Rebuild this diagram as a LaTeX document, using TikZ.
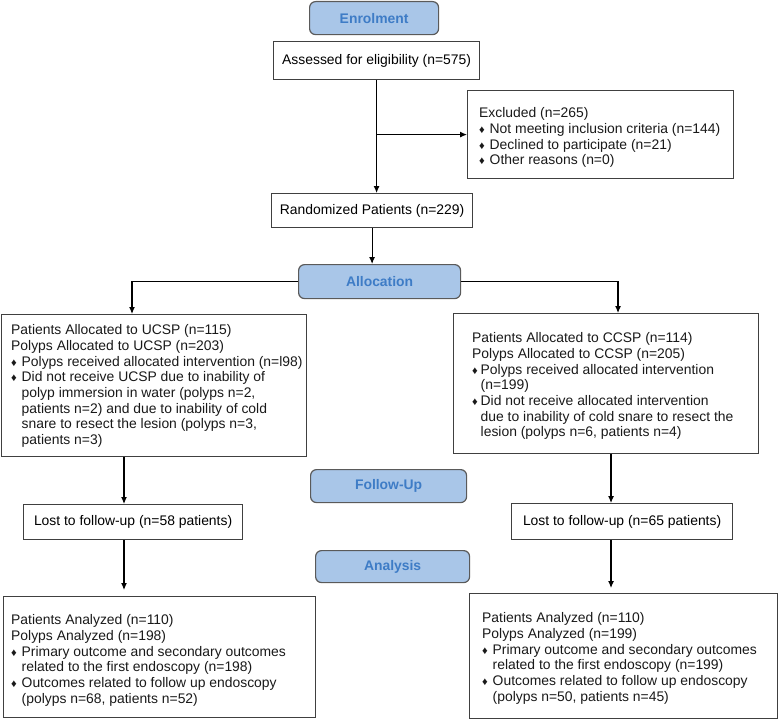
\documentclass[tikz,border=0pt]{standalone}
\usepackage{fontspec}
\setmainfont{Liberation Sans}
\usetikzlibrary{arrows.meta,calc}
\definecolor{hdfill}{HTML}{A9C6E8}
\definecolor{hdtext}{HTML}{3E7CC6}
\definecolor{hdline}{HTML}{5A5A5A}
\definecolor{bxline}{HTML}{404040}
\newcommand{\bul}{\makebox[10.5pt][l]{\scalebox{0.8}{♦}}}
\newcommand{\bulr}{\makebox[8.5pt][l]{\scalebox{0.8}{♦}}}
\newcommand{\ind}{\hspace*{10.5pt}}
\newcommand{\indr}{\hspace*{8.5pt}}
\begin{document}
\begin{tikzpicture}[x=1pt,y=-1pt,
  font=\fontsize{13.9}{15.7}\selectfont,
  heading/.style={draw=hdline, line width=1.2pt, fill=hdfill, rounded corners=6pt, text=hdtext, font=\fontsize{13.9}{15.7}\selectfont\bfseries, anchor=north west, inner sep=0pt},
  box/.style={draw=bxline, line width=1.2pt, anchor=north west, inner sep=0pt},
  txt/.style={anchor=north west, align=left, inner sep=0pt, text=black!90},
  arr/.style={line width=1.1pt, -{Latex[length=7pt,width=6pt]}}
]
\useasboundingbox (0,0) rectangle (778,720);

% headings
\node[heading, minimum width=129pt, minimum height=33pt] (enrol) at (309,1) {Enrolment};
\node[heading, minimum width=162pt, minimum height=34pt] (alloc) at (298,264) {Allocation};
\node[heading, minimum width=156pt, minimum height=33pt] (fu) at (310,469) {Follow-Up};
\node[heading, minimum width=154pt, minimum height=32pt] (anal) at (315,550) {Analysis};

% simple boxes
\node[box, minimum width=206pt, minimum height=38pt] (assess) at (273,41) {Assessed for eligibility (n=575)};
\node[box, minimum width=201pt, minimum height=34pt] (rand) at (271,193) {Randomized Patients (n=229)};
\node[box, minimum width=219pt, minimum height=35pt] (lostL) at (23,504) {Lost to follow-up (n=58 patients)};
\node[box, minimum width=221pt, minimum height=36pt] (lostR) at (511,503) {Lost to follow-up (n=65 patients)};

% text boxes
\node[box, minimum width=266pt, minimum height=88pt] (excl) at (467,90) {};
\node[txt] (exclt) at (479,107.5) {Excluded (n=265)\\
\bul Not meeting inclusion criteria (n=144)\\
\bul Declined to participate (n=21)\\
\bul Other reasons (n=0)};

\node[box, minimum width=305pt, minimum height=142pt] (left1) at (1,314) {};
\node[txt] (left1t) at (11,324.5) {Patients Allocated to UCSP (n=115)\\
Polyps Allocated to UCSP (n=203)\\
\bul Polyps received allocated intervention (n=l98)\\
\bul Did not receive UCSP due to inability of\\
\ind polyp immersion in water (polyps n=2,\\
\ind patients n=2) and due to inability of cold\\
\ind snare to resect the lesion (polyps n=3,\\
\ind patients n=3)};

\node[box, minimum width=305pt, minimum height=140pt] (right1) at (453,313) {};
\node[txt] (right1t) at (472,332.5) {Patients Allocated to CCSP (n=114)\\
Polyps Allocated to CCSP (n=205)\\
\bulr Polyps received allocated intervention\\
\indr (n=199)\\
\bulr Did not receive allocated intervention\\
\indr due to inability of cold snare to resect the\\
\indr lesion (polyps n=6, patients n=4)};

\node[box, minimum width=312pt, minimum height=121pt] (botL) at (3,596) {};
\node[txt] (botLt) at (11,614.5) {Patients Analyzed (n=110)\\
Polyps Analyzed (n=198)\\
\bul Primary outcome and secondary outcomes\\
\ind related to the first endoscopy (n=198)\\
\bul Outcomes related to follow up endoscopy\\
\ind (polyps n=68, patients n=52)};

\node[box, minimum width=308pt, minimum height=125pt] (botR) at (469,593) {};
\node[txt] (botRt) at (482,612.5) {Patients Analyzed (n=110)\\
Polyps Analyzed (n=199)\\
\bul Primary outcome and secondary outcomes\\
\ind related to the first endoscopy (n=199)\\
\bul Outcomes related to follow up endoscopy\\
\ind (polyps n=50, patients n=45)};

% connectors
\coordinate (lx) at (132,0);
\coordinate (rx) at (618,0);
\coordinate (lx2) at (124,0);
\coordinate (rx2) at (611,0);
\draw[arr] (assess.south) -- (assess.south |- rand.north);
\draw[arr] (assess.south |- excl.west) -- (excl.west);
\draw[arr] (rand.south) -- (rand.south |- alloc.north);
\draw[arr] (alloc.west) -| (lx |- left1.north);
\draw[arr] (alloc.east) -| (rx |- right1.north);
\draw[arr] (lx2 |- left1.south) -- (lx2 |- lostL.north);
\draw[arr] (rx2 |- right1.south) -- (rx2 |- lostR.north);
\draw[arr, shorten >=6pt] (lx2 |- lostL.south) -- (lx2 |- botL.north);
\draw[arr, shorten >=5pt] (rx2 |- lostR.south) -- (rx2 |- botR.north);
\end{tikzpicture}
\end{document}
